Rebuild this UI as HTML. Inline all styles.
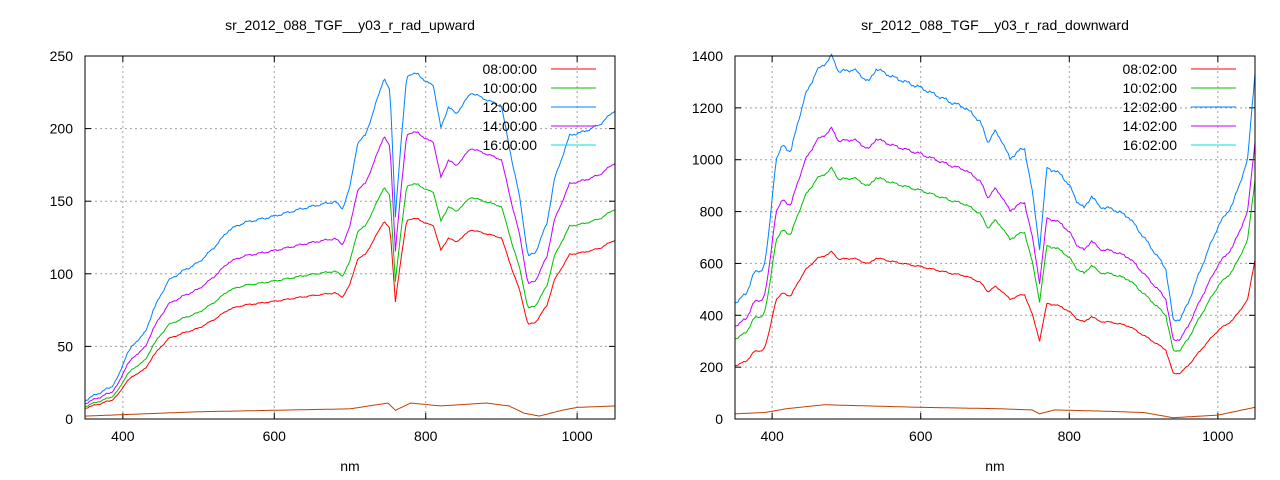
<!DOCTYPE html>
<html><head><meta charset="utf-8"><style>
html,body{margin:0;padding:0;background:#fff}
svg{display:block;font-family:"Liberation Sans",sans-serif;font-size:14px}
</style></head><body>
<svg id="s" width="1280" height="480" xmlns="http://www.w3.org/2000/svg"></svg>
<script>
const S=document.getElementById('s');let h='';
function interp(p,x){for(let i=0;i<p.length-1;i++){if(x>=p[i][0]&&x<=p[i+1][0]){const t=(x-p[i][0])/(p[i+1][0]-p[i][0]);return p[i][1]+t*(p[i+1][1]-p[i][1]);}}return p[p.length-1][1];}
function plot(o){
 const {x0,x1,y0,y1,ymax,ystep,title,labels,base,orange,sc,noise}=o;
 const X=v=>x0+(v-350)/700*(x1-x0), Y=v=>y1-v/ymax*(y1-y0);
 for(let v=400;v<=1000;v+=200){h+=`<line x1="${X(v)}" y1="${y0}" x2="${X(v)}" y2="${y1}" stroke="#a0a0a0" stroke-dasharray="2,3"/>`;
  h+=`<line x1="${X(v)}" y1="${y1}" x2="${X(v)}" y2="${y1-6}" stroke="#000"/><line x1="${X(v)}" y1="${y0}" x2="${X(v)}" y2="${y0+6}" stroke="#000"/>`;
  h+=`<text x="${X(v)}" y="${y1+22}" text-anchor="middle">${v}</text>`;}
 for(let v=0;v<=ymax;v+=ystep){const y=Y(v);
  if(v>0&&v<ymax)h+=`<line x1="${x0}" y1="${y}" x2="${x1}" y2="${y}" stroke="#a0a0a0" stroke-dasharray="2,3"/>`;
  h+=`<line x1="${x0}" y1="${y}" x2="${x0+6}" y2="${y}" stroke="#000"/><line x1="${x1}" y1="${y}" x2="${x1-6}" y2="${y}" stroke="#000"/>`;
  h+=`<text x="${x0-12}" y="${y+5}" text-anchor="end">${v}</text>`;}
 const cols=['#ff0000','#00c000','#0080ff','#c000ff'];
 const series=[[sc[0],cols[0]],[sc[1],cols[1]],[1,cols[2]],[sc[2],cols[3]]];
 const ptsOf=(p,k,nz)=>{let s='';for(let v=350;v<=1050;v+=2){let y=interp(p,v)*k;y+=nz*k*(Math.sin(v*0.37)+0.6*Math.sin(v*1.13+1)+0.4*Math.sin(v*0.071));s+=`${X(v).toFixed(1)},${Y(Math.max(0,y)).toFixed(1)} `;}return s;};
 for(const [k,c] of series)h+=`<polyline fill="none" stroke="${c}" points="${ptsOf(base,k,noise)}"/>`;
 h+=`<polyline fill="none" stroke="#c04000" points="${ptsOf(orange,1,0)}"/>`;
 h+=`<rect x="${x0}" y="${y0}" width="${x1-x0}" height="${y1-y0}" fill="none" stroke="#000"/>`;
 h+=`<text x="${(x0+x1)/2}" y="30" text-anchor="middle">${title}</text>`;
 h+=`<text x="${(x0+x1)/2}" y="471" text-anchor="middle">nm</text>`;
 const lc=['#ff0000','#00c000','#0080ff','#c000ff','#00e0e0'];
 labels.forEach((l,i)=>{const y=69+i*19;h+=`<text x="${x1-78}" y="${y+5}" text-anchor="end">${l}</text><line x1="${x1-64}" y1="${y}" x2="${x1-19}" y2="${y}" stroke="${lc[i]}"/>`;});
}
plot({x0:85,x1:615,y0:56,y1:419,ymax:250,ystep:50,title:"sr_2012_088_TGF__y03_r_rad_upward",
 labels:["08:00:00","10:00:00","12:00:00","14:00:00","16:00:00"],sc:[0.58,0.68,0.83],noise:0.6,
 base:[[350,13],[370,18],[385,22],[395,30],[405,45],[420,55],[430,60],[440,75],[460,95],[480,102],[500,108],[520,118],[540,130],[560,135],[600,140],[640,145],[680,150],[690,145],[700,160],[710,190],[720,195],[730,210],[745,235],[753,225],[760,140],[765,175],[775,237],[790,238],[800,232],[810,230],[820,200],[830,215],[840,210],[860,225],[880,220],[900,215],[915,175],[925,150],[935,112],[945,115],[960,135],[970,165],[990,195],[1010,198],[1030,203],[1050,213]],
 orange:[[350,2],[400,3],[500,5],[600,6],[700,7],[750,11],[760,6],[780,11],[820,9],[880,11],[910,9],[930,4],[950,2],[980,6],[1000,8],[1050,9]]});
plot({x0:735,x1:1255,y0:56,y1:419,ymax:1400,ystep:200,title:"sr_2012_088_TGF__y03_r_rad_downward",
 labels:["08:02:00","10:02:00","12:02:00","14:02:00","16:02:00"],sc:[0.46,0.69,0.8],noise:5,
 base:[[350,450],[365,480],[375,560],[385,570],[390,600],[395,700],[400,850],[405,1000],[415,1060],[425,1030],[435,1150],[445,1250],[460,1340],[475,1380],[480,1400],[490,1340],[510,1350],[530,1300],[540,1350],[560,1320],[600,1280],[640,1220],[660,1200],[680,1150],[690,1070],[700,1110],[710,1070],[720,1000],[730,1030],[740,1040],[750,880],[760,660],[770,970],[780,960],[790,940],[800,900],[810,840],[820,810],[830,860],[840,820],[860,810],[880,780],[900,700],[920,620],[930,580],[940,380],[950,390],[960,450],[980,600],[1000,740],[1020,830],[1040,1000],[1050,1340]],
 orange:[[350,20],[390,25],[420,40],[470,55],[600,45],[700,40],[750,35],[760,20],[780,35],[850,30],[900,25],[940,5],[1000,15],[1050,45]]});
S.innerHTML=h;
</script>
</body></html>
